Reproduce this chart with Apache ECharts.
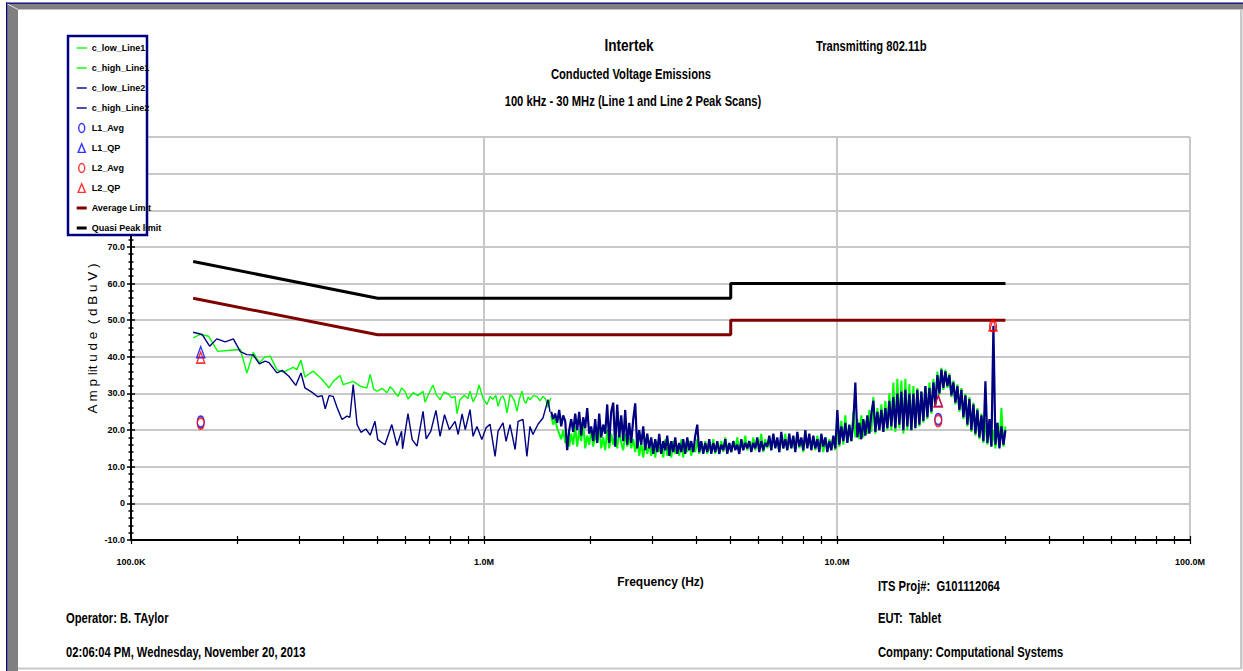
<!DOCTYPE html>
<html>
<head>
<meta charset="utf-8">
<script src="https://cdn.jsdelivr.net/npm/echarts@6/dist/echarts.min.js"></script>
<style>
html,body{margin:0;padding:0;background:#fff;}
#chart{width:1243px;height:671px;}
</style>
</head>
<body>
<div id="chart"></div>
<script>
const FONT = "'Liberation Sans', Arial, sans-serif";

// ---- axis ticks ----
const X_MIN = 0.1, X_MAX = 100;           // MHz
const X_TICKS = [0.1,0.2,0.3,0.4,0.5,0.6,0.7,0.8,0.9,1,2,3,4,5,6,7,8,9,10,20,30,40,50,60,70,80,90,100];
const Y_MIN = -10, Y_MAX = 100, Y_STEP = 10, Y_LABEL_MAX = 70;

// ---- limits (MHz, dBuV) ----
const QP_LIMIT  = [[0.15,66],[0.5,56],[5,56],[5,60],[30,60]];
const AVG_LIMIT = [[0.15,56],[0.5,46],[5,46],[5,50],[30,50]];

// ---- low-range peak scans (MHz, dBuV) ----
const LINE1_LOW = [[0.150,45.2],[0.157,46.1],[0.166,45.6],[0.176,41.5],[0.191,41.8],[0.204,42.0],[0.213,35.6],[0.222,41.2],[0.231,38.4],[0.240,40.0],[0.248,40.2],[0.259,36.5],[0.270,35.8],[0.288,37.1],[0.295,36.5],[0.303,39.1],[0.311,34.5],[0.328,36.1],[0.348,33.8],[0.364,31.5],[0.374,33.3],[0.391,34.9],[0.399,32.4],[0.426,33.3],[0.446,32.0],[0.466,31.5],[0.476,35.2],[0.487,31.2],[0.498,30.6],[0.514,31.4],[0.531,30.2],[0.542,31.8],[0.552,31.1],[0.561,30.0],[0.571,29.2],[0.584,31.5],[0.597,30.6],[0.609,28.5],[0.630,30.2],[0.650,29.4],[0.672,30.6],[0.681,27.6],[0.698,30.0],[0.717,32.3],[0.733,29.6],[0.751,28.3],[0.770,30.4],[0.791,29.9],[0.810,28.8],[0.828,29.2],[0.839,24.5],[0.855,28.3],[0.880,29.5],[0.900,28.6],[0.913,30.6],[0.931,27.7],[0.950,29.3],[0.968,32.3],[0.994,28.6],[1.020,27.0],[1.040,29.2],[1.060,28.4],[1.080,29.5],[1.096,26.5],[1.115,28.8],[1.132,29.3],[1.147,27.8],[1.162,24.7],[1.185,29.7],[1.200,29.2],[1.220,27.9],[1.240,25.1],[1.260,28.5],[1.281,30.6],[1.300,28.0],[1.315,27.3],[1.335,29.0],[1.350,28.3],[1.380,29.4],[1.413,29.2],[1.440,28.0],[1.469,29.2],[1.495,28.5],[1.518,26.2],[1.545,28.8]];

const LINE2_LOW = [[0.150,46.7],[0.159,46.1],[0.167,42.9],[0.175,44.9],[0.185,44.1],[0.195,44.9],[0.204,41.4],[0.213,40.6],[0.222,40.5],[0.231,38.1],[0.240,38.8],[0.246,38.4],[0.259,35.6],[0.268,36.3],[0.280,34.7],[0.293,32.2],[0.303,35.6],[0.311,31.5],[0.326,30.3],[0.338,29.1],[0.348,29.4],[0.355,25.8],[0.364,29.4],[0.374,29.2],[0.383,26.3],[0.396,22.9],[0.409,23.8],[0.417,23.5],[0.426,32.4],[0.437,21.5],[0.448,19.4],[0.463,20.3],[0.476,18.6],[0.491,22.4],[0.500,17.4],[0.524,16.0],[0.548,21.5],[0.567,15.8],[0.584,19.7],[0.588,14.9],[0.609,24.5],[0.626,17.4],[0.646,15.6],[0.672,25.1],[0.686,17.6],[0.707,19.7],[0.731,25.4],[0.751,18.3],[0.773,24.2],[0.798,20.1],[0.828,22.4],[0.845,18.8],[0.867,24.4],[0.885,20.1],[0.913,25.6],[0.931,18.3],[0.955,21.0],[0.986,17.4],[1.013,20.6],[1.040,21.6],[1.075,12.8],[1.096,19.7],[1.132,22.0],[1.155,16.9],[1.185,21.5],[1.225,14.7],[1.249,22.4],[1.290,22.9],[1.323,12.8],[1.350,21.0],[1.376,18.8],[1.422,21.6],[1.469,23.3],[1.518,28.3],[1.538,25.0]];

// ---- high-range peak scans: sweep 1.55 MHz .. 30 MHz, dBuV per sweep point ----
const HIGH_START = 1.55, HIGH_STOP = 30;
const LINE1_HIGH = [24,21.5,23,20.5,19,17.5,20,16.5,18,15.5,
19,16,21,15.5,20,17,22,15,18.5,16,
20,15.5,19,16.5,21,15,18,14.5,20,15,
19,16,18.5,15,20,16.5,14.5,19,15.5,18,
15,17.5,14,18,13,16.5,12.5,17,13.5,16,
13,16.5,12.5,17,14,16,12.5,17.5,13,16.5,
12.5,17,13.5,16,13,17.5,12.5,16.5,14,17,
13,16,14,17.5,13.5,16.5,14,17,13.5,16,
14,17.5,13.5,16.5,14.5,17,14,18,14.5,16.5,
14,17,15,18,14,16.5,15,18.5,14.5,17,
15,18,14.5,17,15.5,19,14,17.5,15,18,
14.5,18.5,15.5,17,14,18,15,19,14.5,17.5,
15,18,14.5,19,15,17.5,14,18.5,15.5,18,
15,17.5,14.5,18.5,15,17,14,18,14.5,17.5,
15,18,14.5,20,15.5,22.5,16,24,16.5,21,
17,25,18,23,17.5,24,18,22.5,19,25.5,
19.5,29,19,26,20,27,19.5,28,20,30,
20,33,19.5,34,20.5,33.5,19,34,20,32.5,
20,32,20.5,31.5,21,30.5,22,32,23,33,
24.5,34,26.5,36,29.5,37,31,36.5,31.5,35.5,
29,33.5,27,32.5,25,31.5,23,30,21,29,
19.5,27.5,18.5,26,17.5,24.5,16.5,23,16,22,
15.5,20,15,22,16,26,15.5,21];

const LINE2_HIGH = [25,23,24.5,22,25.5,21,24,22.5,14.5,20,
23,19.5,24.5,20,25,18.5,23.5,20.5,26,19,
21,17,23,16.5,24.5,18,21.5,19,27,16.5,
25,27.5,15.5,27,18,24,17,25.5,16,22,
16.5,23,27.3,15,20,16,21,14.5,19,15,
18,13.5,17.5,14,19,13.5,17,14.5,18.5,13,
17,14,18,13.5,16.5,14,17.5,13.5,18,14.5,
17,14,18.5,21.5,14,17,13.5,16.5,14,17.5,
13.5,16.5,14,17,13.5,16,14.5,17.5,13.5,16.5,
14,17,14.5,16,13.5,17.5,14.5,16.5,15,17,
14,16.5,15,18,14,17,14.5,16.5,15.5,18.5,
14.5,19,15,18,14,19.5,15,17.5,14.5,19,
15,18.5,14,19.5,15.5,18,14.5,20,15,19,
14.5,18.5,15,17.5,14,19,15.5,18,14,17,
14.5,18.5,15,25.5,16,21,17,22,16.5,21.5,
17,22.5,33,18,22,17.5,23,18.5,24,19,
24.5,28,19.5,25,20,25.5,19.5,26,20.5,28,
21,29,20.5,30,21.5,30.5,20,31,21,30,
20,30,20.5,31,21.5,30.5,22.5,32,23.5,31.5,
25,33,27,35,30,36.5,31.5,36,32,35,
29.5,33,27.5,32,25.5,31,23.5,29.5,21.5,28.5,
20,27,19,25.5,18,24,17,33.3,16.5,23,
15.5,48.5,16,22,15,21,16,20];

// ---- final measurements (MHz, dBuV) ----
const L1_AVG = [[0.1576,22.3],[19.36,23.0]];
const L1_QP  = [[0.1576,41.3],[19.36,27.9]];
const L2_AVG = [[0.1576,21.8],[19.36,22.5],[27.67,48.4]];
const L2_QP  = [[0.1576,39.8],[19.36,27.9],[27.67,48.6]];

function sweep(start, stop, values) {
  const n = values.length;
  return values.map((v, i) => [start * Math.pow(stop / start, i / (n - 1)), v]);
}

const GREEN = '#00ff00', NAVY = '#000080', BLUE = '#0000ff', RED = '#ff0000';
const ELLIPSE = 'path://M5,0A5,5,0,1,1,4.999,0Z';

function traceSeries(name, color, data, width) {
  return { name, type: 'line', data, symbol: 'none', showSymbol: false, animation: false,
    lineStyle: { color, width }, itemStyle: { color }, z: 2 };
}
function markSeries(name, color, symbol, size, data) {
  return { name, type: 'scatter', data, symbol, symbolSize: size, animation: false,
    itemStyle: { color: 'rgba(0,0,0,0)', borderColor: color, borderWidth: 1.5 }, z: 4 };
}
function limitSeries(name, color, data) {
  return { name, type: 'line', data, symbol: 'none', showSymbol: false, animation: false,
    lineStyle: { color, width: 3 }, itemStyle: { color }, z: 3 };
}

const LEG_LINE = 'path://M0,0M10,10M0,4.3L10,4.3L10,5.7L0,5.7Z';
const LEG_BAR  = 'path://M0,0M10,10M0,3.5L10,3.5L10,6.5L0,6.5Z';
const LEG_ELL  = 'path://M0,0M10,10M5,0.5A3,4.5,0,1,1,5,9.5A3,4.5,0,1,1,5,0.5Z';
const LEG_TRI  = 'path://M0,0M10,10M5,0.8L8.6,9.4L1.4,9.4Z';
const hollow = c => ({ color: 'rgba(0,0,0,0)', borderColor: c, borderWidth: 1.4 });

const axisLabelFont = { fontFamily: FONT, fontWeight: 'bold', fontSize: 9, color: '#000' };
const xLabel = v => v >= 1 ? v.toFixed(1) + 'M' : (v * 1000).toFixed(1) + 'K';
const yLabel = v => v > Y_LABEL_MAX ? '' : (v === 0 ? '0' : v.toFixed(1));

// narrow bold text: Liberation Sans Bold squeezed horizontally
function txt(text, x, y, size, align) {
  return { type: 'text', x, y, scaleX: 0.8, scaleY: 1, z: 6,
    style: { text, x: 0, y: 0, font: 'bold ' + size + 'px ' + FONT, fill: '#000',
      align: align || 'left', textAlign: align || 'left', verticalAlign: 'middle', textVerticalAlign: 'middle' } };
}

const chart = echarts.init(document.getElementById('chart'), null, { renderer: 'svg' });
chart.setOption({
  animation: false,
  backgroundColor: '#fff',
  grid: { left: 131, right: 53, top: 137, bottom: 131, containLabel: false },
  xAxis: [
    { type: 'log', logBase: 10, min: X_MIN, max: X_MAX, position: 'bottom',
      axisLine: { show: true, onZero: false, lineStyle: { color: '#000', width: 2 } },
      axisTick: { show: false },
      splitLine: { show: true, lineStyle: { color: '#c8c8c8', width: 2 } },
      axisLabel: Object.assign({ formatter: xLabel, margin: 17 }, axisLabelFont),
      name: 'Frequency (Hz)', nameLocation: 'middle', nameGap: 36, nameMoveOverlap: false,
      nameTextStyle: { fontFamily: FONT, fontWeight: 'bold', fontSize: 12, color: '#000' } },
    { type: 'log', logBase: 10, min: X_MIN, max: X_MAX, position: 'bottom', gridIndex: 0,
      axisLine: { show: false, onZero: false },
      axisTick: { show: true, customValues: X_TICKS, length: 4, lineStyle: { color: '#000', width: 1.2 } },
      splitLine: { show: false }, axisLabel: { show: false } },
    { type: 'log', logBase: 10, min: X_MIN, max: X_MAX, position: 'bottom', gridIndex: 0,
      axisLine: { show: false, onZero: false },
      axisTick: { show: true, inside: true, customValues: X_TICKS, length: 4, lineStyle: { color: '#000', width: 1.2 } },
      splitLine: { show: false }, axisLabel: { show: false } }
  ],
  yAxis: [
    { type: 'value', min: Y_MIN, max: Y_MAX, interval: Y_STEP, position: 'left',
      axisLine: { show: true, onZero: false, lineStyle: { color: '#000', width: 2 } },
      axisTick: { show: true, length: 4, lineStyle: { color: '#000', width: 1.5 } },
      minorTick: { show: true, splitNumber: 5, length: 2.5, lineStyle: { color: '#000', width: 1.5 } },
      splitLine: { show: true, lineStyle: { color: '#c8c8c8', width: 2 } },
      axisLabel: Object.assign({ formatter: yLabel, margin: 6 }, axisLabelFont),
      name: 'A m p lit u d e  ( d B u V )', nameLocation: 'middle', nameGap: 32, nameRotate: 90,
      nameMoveOverlap: false,
      nameTextStyle: { fontFamily: FONT, fontWeight: 'normal', fontSize: 13.5, color: '#000' } },
    { type: 'value', min: Y_MIN, max: Y_MAX, interval: Y_STEP, position: 'left', gridIndex: 0,
      axisLine: { show: false, onZero: false },
      axisTick: { show: true, inside: true, length: 4, lineStyle: { color: '#000', width: 1.5 } },
      minorTick: { show: true, splitNumber: 5, length: 2.5, lineStyle: { color: '#000', width: 1.5 } },
      splitLine: { show: false }, axisLabel: { show: false } }
  ],
  legend: {
    orient: 'vertical', left: 76, top: 42, itemWidth: 10, itemHeight: 10, itemGap: 8, padding: 0,
    selectedMode: false, z: 30,
    textStyle: { fontFamily: FONT, fontWeight: 'bold', fontSize: 9, lineHeight: 12, color: '#000' },
    data: [
      { name: 'c_low_Line1', icon: LEG_LINE, itemStyle: { color: GREEN, borderWidth: 0 } },
      { name: 'c_high_Line1', icon: LEG_LINE, itemStyle: { color: GREEN, borderWidth: 0 } },
      { name: 'c_low_Line2', icon: LEG_LINE, itemStyle: { color: NAVY, borderWidth: 0 } },
      { name: 'c_high_Line2', icon: LEG_LINE, itemStyle: { color: NAVY, borderWidth: 0 } },
      { name: 'L1_Avg', icon: LEG_ELL, itemStyle: hollow(BLUE) },
      { name: 'L1_QP', icon: LEG_TRI, itemStyle: hollow(BLUE) },
      { name: 'L2_Avg', icon: LEG_ELL, itemStyle: hollow(RED) },
      { name: 'L2_QP', icon: LEG_TRI, itemStyle: hollow(RED) },
      { name: 'Average Limit', icon: LEG_BAR, itemStyle: { color: '#800000', borderWidth: 0 } },
      { name: 'Quasi Peak limit', icon: LEG_BAR, itemStyle: { color: '#000', borderWidth: 0 } }
    ]
  },
  graphic: [
    { type: 'rect', z: 5, shape: { x: 7, y: 3, width: 11, height: 668 }, style: { fill: '#808080' } },
    { type: 'rect', z: 5, shape: { x: 7, y: 3, width: 1236, height: 6.5 }, style: { fill: '#808080' } },
    { type: 'rect', z: 5, shape: { x: 18, y: 9, width: 1223, height: 1 }, style: { fill: '#c0c0c0' } },
    { type: 'rect', z: 5, shape: { x: 6, y: 2.5, width: 1237, height: 1.3 }, style: { fill: NAVY } },
    { type: 'rect', z: 5, shape: { x: 6, y: 2.5, width: 1.2, height: 669 }, style: { fill: NAVY } },
    { type: 'line', z: 5, shape: { x1: 7.5, y1: 4, x2: 18, y2: 9.5 }, style: { stroke: '#e0e0e0', lineWidth: 1 } },
    { type: 'rect', z: 5, shape: { x: 1240, y: 9, width: 2.5, height: 660 }, style: { fill: '#c8c8c8' } },
    { type: 'rect', z: 5, shape: { x: 18, y: 667.5, width: 1224, height: 2 }, style: { fill: '#c8c8c8' } },
    { type: 'rect', z: 5, shape: { x: 68, y: 36, width: 79, height: 199 }, style: { fill: '#fff', stroke: NAVY, lineWidth: 2.5 } },
    txt('Intertek', 629, 45, 17, 'center'),
    txt('Conducted Voltage Emissions', 631, 75, 14, 'center'),
    txt('100 kHz - 30 MHz (Line 1 and Line 2 Peak Scans)', 633, 102, 14, 'center'),
    txt('Transmitting 802.11b', 816, 47, 14),
    txt('ITS Proj#:  G101112064', 878, 587, 14),
    txt('EUT:  Tablet', 878, 619, 14),
    txt('Company: Computational Systems', 878, 653, 14),
    txt('Operator: B. TAylor', 66, 619, 14),
    txt('02:06:04 PM, Wednesday, November 20, 2013', 66, 653, 14)
  ],
  series: [
    traceSeries('c_low_Line1', GREEN, LINE1_LOW, 1.4),
    traceSeries('c_high_Line1', GREEN, sweep(HIGH_START, HIGH_STOP, LINE1_HIGH), 2),
    traceSeries('c_low_Line2', NAVY, LINE2_LOW, 1.4),
    traceSeries('c_high_Line2', NAVY, sweep(HIGH_START, HIGH_STOP, LINE2_HIGH), 2.2),
    markSeries('L1_Avg', BLUE, ELLIPSE, [7, 11], L1_AVG),
    markSeries('L1_QP', BLUE, 'triangle', [8, 11], L1_QP),
    markSeries('L2_Avg', RED, ELLIPSE, [7, 11], L2_AVG),
    markSeries('L2_QP', RED, 'triangle', [8, 11], L2_QP),
    limitSeries('Average Limit', '#800000', AVG_LIMIT),
    limitSeries('Quasi Peak limit', '#000', QP_LIMIT)
  ]
});
</script>
</body>
</html>
